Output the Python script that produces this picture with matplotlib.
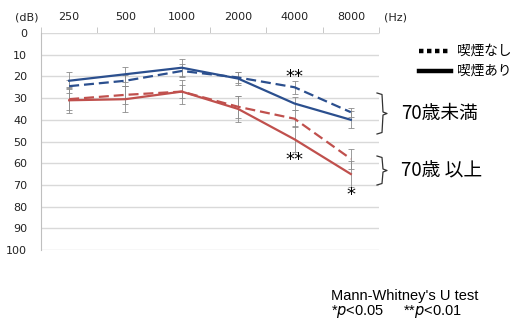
import matplotlib.pyplot as plt
from matplotlib.lines import Line2D
import numpy as np

freqs = ["250", "500", "1000", "2000", "4000", "8000"]
db_ticks = [0, 10, 20, 30, 40, 50, 60, 70, 80, 90, 100]

# under 70
young_smoker = [22, 19, 16, 21, 32.5, 40]
young_smoker_sd = [4, 3.5, 4, 3, 3, 4]
young_nonsmoker = [24.5, 22, 17.5, 20.5, 25, 36.5]
young_nonsmoker_sd = [3, 2.5, 3, 2.5, 3, 2]
# 70 and over
old_smoker = [31, 30.5, 27, 35, 49, 65]
old_smoker_sd = [6, 6, 5.5, 6, 6, 6]
old_nonsmoker = [30.5, 28.5, 27, 34, 39.5, 58]
old_nonsmoker_sd = [5, 4, 3, 5, 4, 4.5]

blue = "#2b4f8e"
red = "#c0504d"
W, H = 514, 320


def px(x, y):
    # pixel position -> figure fraction
    return x / W, 1 - y / H


fig = plt.figure(figsize=(W / 100, H / 100), dpi=100)
ax = fig.add_axes([41 / W, 1 - 250 / H, (379 - 41) / W, (250 - 33) / H])

x = np.arange(len(freqs))
series = [
    (young_nonsmoker, young_nonsmoker_sd, blue, (0, (4.5, 2.2))),
    (young_smoker, young_smoker_sd, blue, "-"),
    (old_nonsmoker, old_nonsmoker_sd, red, (0, (4.5, 2.2))),
    (old_smoker, old_smoker_sd, red, "-"),
]
for vals, sd, col, ls in series:
    ax.errorbar(x, vals, yerr=sd, fmt="none", ecolor="#8c8c8c", elinewidth=0.6,
                capsize=2, capthick=0.6, zorder=2)
for vals, sd, col, ls in series:
    ax.plot(x, vals, color=col, lw=1.6, linestyle=ls, zorder=3)

ax.set_xlim(-0.5, len(freqs) - 0.5)
ax.set_ylim(100, 0)
ax.set_yticks(db_ticks)
ax.tick_params(axis="y", length=0, pad=10, labelsize=8, labelcolor="#222222")
ax.xaxis.tick_top()
ax.set_xticks(x)
ax.set_xticklabels(freqs)
ax.set_xticks(np.arange(len(freqs) + 1) - 0.5, minor=True)
ax.tick_params(axis="x", which="major", length=0, pad=8, labelsize=8, labelcolor="#222222")
ax.tick_params(axis="x", which="minor", length=4, color="#bfbfbf", top=True)
ax.grid(axis="y", color="#d9d9d9", lw=1)
for s in ["right", "bottom", "top"]:
    ax.spines[s].set_visible(False)
ax.spines["left"].set_color("#bfbfbf")
ax.set_axisbelow(True)

# significance marks
ax.text(4, 20.5, "**", ha="center", va="center", fontsize=13)
ax.text(4, 58.5, "**", ha="center", va="center", fontsize=13)
ax.text(5, 74.5, "*", ha="center", va="center", fontsize=13)

fig.text(*px(15, 17), "(dB)", fontsize=8, va="center", color="#222222")
fig.text(*px(384, 18), "(Hz)", fontsize=8, va="center", color="#222222")

# legend
fig.add_artist(Line2D([419 / W, 451 / W], [1 - 51 / H] * 2, color="black", lw=3.2,
                      linestyle=(0, (1, 0.8)), transform=fig.transFigure))
fig.add_artist(Line2D([419 / W, 451 / W], [1 - 71 / H] * 2, color="black", lw=3.2,
                      transform=fig.transFigure))
jp = ["Noto Sans CJK JP", "DejaVu Sans"]
fig.text(*px(457, 51), "喫煙なし", family=jp, fontsize=9.8, va="center")
fig.text(*px(457, 71), "喫煙あり", family=jp, fontsize=9.8, va="center")

# braces
def brace(top, bot):
    mid = (top + bot) / 2
    xs = [377, 382, 383, 387, 383, 382, 377]
    ys = [top, top + 1.5, mid - 1.5, mid, mid + 1.5, bot - 1.5, bot]
    fig.add_artist(Line2D([v / W for v in xs], [1 - v / H for v in ys], color="#333333",
                          lw=0.9, transform=fig.transFigure))
    return mid


m1 = brace(93, 134)
m2 = brace(156, 185)
fig.text(*px(401, m1), "70歳未満", family=jp, fontsize=13.5, va="center")
fig.text(*px(401, m2), "70歳 以上", family=jp, fontsize=13.5, va="center")

# footnote
fig.text(*px(331, 296), "Mann-Whitney's U test", family="Liberation Sans", fontsize=10.5, va="center")
fig.text(*px(331, 311), r"*$\it{p}$<0.05     **$\it{p}$<0.01", family="Liberation Sans",
         fontsize=10.5, va="center")

fig.savefig("out.png", dpi=100)
